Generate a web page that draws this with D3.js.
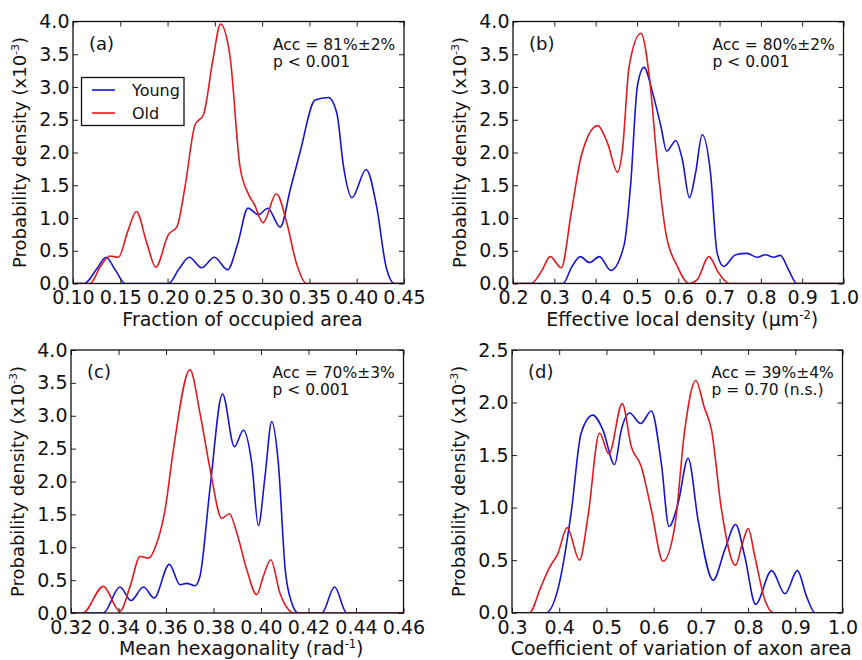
<!DOCTYPE html>
<html>
<head>
<meta charset="utf-8">
<script src="https://cdn.jsdelivr.net/npm/d3@7"></script>
<style>
  body { margin: 0; background: #fff; }
  text { font-family: "DejaVu Sans", sans-serif; fill: #111; }
</style>
</head>
<body>
<div class="interactive"></div>
<script>
// values (x, density x10^-3)
var youngA = [[0.10,0],[0.112,0],[0.125,0.22],[0.135,0.40],[0.145,0.2],[0.155,0],[0.18,0],[0.201,0],[0.212,0.22],[0.223,0.40],[0.236,0.24],[0.2495,0.40],[0.2635,0.21],[0.274,0.6],[0.285,1.15],[0.296,1.05],[0.306,1.15],[0.319,0.86],[0.330,1.45],[0.340,2.0],[0.356,2.8],[0.370,2.84],[0.379,2.6],[0.386,1.79],[0.395,1.31],[0.410,1.74],[0.421,1.18],[0.431,0.26],[0.440,0],[0.45,0]];
var oldA = [[0.10,0],[0.118,0],[0.129,0.26],[0.139,0.42],[0.148,0.40],[0.158,0.8],[0.167,1.10],[0.178,0.62],[0.1875,0.25],[0.201,0.75],[0.210,0.87],[0.2185,1.48],[0.229,2.42],[0.238,2.58],[0.248,3.42],[0.256,3.96],[0.266,3.47],[0.2765,1.79],[0.285,1.38],[0.292,1.20],[0.301,0.93],[0.315,1.37],[0.326,0.93],[0.336,0.32],[0.347,0],[0.45,0]];

var youngB = [[0.2,0],[0.321,0],[0.342,0.25],[0.363,0.41],[0.385,0.32],[0.409,0.41],[0.437,0.20],[0.469,0.59],[0.485,1.53],[0.501,3.01],[0.517,3.30],[0.538,2.91],[0.558,2.40],[0.572,2.02],[0.594,2.18],[0.610,1.89],[0.627,1.31],[0.642,1.69],[0.658,2.27],[0.678,1.69],[0.694,0.47],[0.710,0.26],[0.739,0.44],[0.767,0.46],[0.791,0.40],[0.811,0.44],[0.831,0.40],[0.847,0.43],[0.867,0.21],[0.887,0],[1.0,0]];
var oldB = [[0.2,0],[0.244,0],[0.270,0.2],[0.290,0.41],[0.317,0.24],[0.341,1.08],[0.365,1.94],[0.405,2.41],[0.429,2.14],[0.453,1.70],[0.465,2.04],[0.481,3.31],[0.5095,3.82],[0.530,3.16],[0.550,1.79],[0.570,0.77],[0.598,0.26],[0.626,0],[0.646,0.06],[0.674,0.41],[0.698,0.16],[0.723,0],[1.0,0]];

var youngC = [[0.32,0],[0.3336,0],[0.3406,0.395],[0.3453,0.19],[0.3505,0.395],[0.355,0.23],[0.3614,0.74],[0.3659,0.43],[0.3687,0.45],[0.3722,0.415],[0.3743,0.56],[0.3786,1.92],[0.3838,3.33],[0.3888,2.53],[0.3926,2.78],[0.3961,2.28],[0.3989,1.33],[0.4017,2.08],[0.4045,2.91],[0.4073,2.28],[0.4102,0.66],[0.413,0.15],[0.4158,0],[0.4256,0],[0.431,0.395],[0.4361,0],[0.46,0]];
var oldC = [[0.32,0],[0.325,0],[0.3336,0.405],[0.3406,0.025],[0.3449,0.405],[0.3491,0.86],[0.3526,0.835],[0.3561,1.06],[0.3596,1.57],[0.3631,2.48],[0.3701,3.70],[0.3743,3.04],[0.3786,2.18],[0.3835,1.44],[0.3867,1.51],[0.3898,1.22],[0.394,0.66],[0.3982,0.28],[0.401,0.56],[0.4041,0.81],[0.408,0.30],[0.4116,0.05],[0.4137,0],[0.46,0]];

var youngD = [[0.3,0],[0.3722,0],[0.397,0.22],[0.4253,0.95],[0.4465,1.71],[0.4713,1.88],[0.4925,1.74],[0.5173,1.41],[0.5315,1.74],[0.5491,1.90],[0.5725,1.80],[0.5951,1.92],[0.6163,1.42],[0.6326,0.82],[0.6517,1.04],[0.673,1.47],[0.6942,0.88],[0.726,0.31],[0.7508,0.60],[0.7735,0.84],[0.7933,0.53],[0.8159,0.08],[0.8499,0.40],[0.8782,0.18],[0.9044,0.40],[0.9242,0.15],[0.9419,0],[1.0,0]];
var oldD = [[0.3,0],[0.3368,0],[0.3616,0.25],[0.3793,0.43],[0.397,0.56],[0.4168,0.81],[0.443,0.50],[0.4607,0.91],[0.4854,1.71],[0.5052,1.51],[0.5335,1.99],[0.5527,1.58],[0.5739,1.39],[0.5951,0.98],[0.6199,0.49],[0.6447,0.82],[0.6659,1.74],[0.6892,2.21],[0.7069,1.96],[0.7225,1.74],[0.7437,0.98],[0.7735,0.45],[0.7862,0.63],[0.8003,0.80],[0.8145,0.53],[0.8357,0.12],[0.8534,0],[1.0,0]];

var ticksA = [0.10,0.15,0.20,0.25,0.30,0.35,0.40,0.45];
var ticksB = [0.2,0.3,0.4,0.5,0.6,0.7,0.8,0.9,1.0];
var ticksC = [0.32,0.34,0.36,0.38,0.40,0.42,0.44,0.46];
var ticksD = [0.3,0.4,0.5,0.6,0.7,0.8,0.9,1.0];
var yTicks4 = [0,0.5,1,1.5,2,2.5,3,3.5,4];
var yTicks25 = [0,0.5,1,1.5,2,2.5];

var seriesNames = ["Young", "Old"];
var colors = ["#1515d0", "#e01a1e"];

var width = 862;
var height = 660;

var svg = d3.select(".interactive")
    .append("svg")
    .attr("width", width)
    .attr("height", height);

function panel(o) {
    var x = d3.scaleLinear().domain([o.xt[0], o.xt[o.xt.length-1]]).range([o.left, o.right]);
    var y = d3.scaleLinear().domain([0, o.yt[o.yt.length-1]]).range([o.bottom, o.top]);
    var g = svg.append("g");

    g.append("clipPath").attr("id", "clip" + o.id)
        .append("rect").attr("x", o.left).attr("y", o.top - 2)
        .attr("width", o.right - o.left).attr("height", o.bottom - o.top + 2);

    var line = d3.line()
        .x(function(d) { return x(d[0]); })
        .y(function(d) { return y(d[1]); })
        .curve(d3.curveMonotoneX);

    [o.young, o.old].forEach(function(s, i) {
        g.append("path")
            .attr("d", line(s))
            .attr("fill", "none")
            .attr("stroke", colors[i])
            .attr("stroke-width", 1.6)
            .attr("clip-path", "url(#clip" + o.id + ")");
    });

    // inward ticks on all four sides
    g.append("g").attr("transform", "translate(0," + o.bottom + ")")
        .call(d3.axisBottom(x).tickValues(o.xt).tickSizeInner(-5).tickSizeOuter(0).tickPadding(7.5).tickFormat(d3.format(o.fmt)));
    g.append("g").attr("transform", "translate(0," + o.top + ")")
        .call(d3.axisTop(x).tickValues(o.xt).tickSizeInner(-5).tickSizeOuter(0).tickFormat(""));
    g.append("g").attr("transform", "translate(" + o.left + ",0)")
        .call(d3.axisLeft(y).tickValues(o.yt).tickSizeInner(-5).tickSizeOuter(0).tickPadding(3.5).tickFormat(d3.format(".1f")));
    g.append("g").attr("transform", "translate(" + o.right + ",0)")
        .call(d3.axisRight(y).tickValues(o.yt).tickSizeInner(-5).tickSizeOuter(0).tickFormat(""));
    g.selectAll(".domain").remove();
    g.selectAll(".tick line").attr("stroke", "#222").attr("stroke-width", 1);
    g.selectAll(".tick text").style("font-size", "19px").style("font-family", "DejaVu Sans").attr("fill", "#111");

    g.append("rect")
        .attr("x", o.left).attr("y", o.top)
        .attr("width", o.right - o.left).attr("height", o.bottom - o.top)
        .attr("fill", "none").attr("stroke", "#111").attr("stroke-width", 1.3);

    // x label
    var xl = g.append("text")
        .attr("x", (o.left + o.right) / 2 + 4)
        .attr("y", o.bottom + 42)
        .attr("text-anchor", "middle")
        .style("font-size", "19px")
        .text(o.xlabel);
    if (o.xsup) {
        xl.append("tspan").attr("dy", -7).style("font-size", "11.5px").text(o.xsup);
        xl.append("tspan").attr("dy", 7).text(")");
    }

    // y label
    var yl = g.append("text")
        .attr("transform", "translate(" + (o.left - 47) + "," + ((o.top + o.bottom) / 2) + ") rotate(-90)")
        .attr("text-anchor", "middle")
        .style("font-size", "18px")
        .text("Probability density (x10");
    yl.append("tspan").attr("dy", -7).style("font-size", "11px").text("-3");
    yl.append("tspan").attr("dy", 7).text(")");

    g.append("text")
        .attr("x", o.left + 16).attr("y", o.top + 28)
        .style("font-size", "18px")
        .text(o.tag);

    g.append("text")
        .attr("x", o.right - 131).attr("y", o.top + 28)
        .style("font-size", "15.5px")
        .text(o.acc);
    g.append("text")
        .attr("x", o.right - 131).attr("y", o.top + 45)
        .style("font-size", "15.5px")
        .text(o.p);
}

panel({ id: "a", tag: "(a)", left: 73, right: 404, top: 21.5, bottom: 283.5, xt: ticksA, yt: yTicks4, fmt: ".2f",
    young: youngA, old: oldA, xlabel: "Fraction of occupied area", acc: "Acc = 81%\u00b12%", p: "p < 0.001" });
panel({ id: "b", tag: "(b)", left: 513, right: 843.5, top: 21.5, bottom: 283.5, xt: ticksB, yt: yTicks4, fmt: ".1f",
    young: youngB, old: oldB, xlabel: "Effective local density (\u03bcm", xsup: "-2", acc: "Acc = 80%\u00b12%", p: "p < 0.001" });
panel({ id: "c", tag: "(c)", left: 71, right: 403.5, top: 350, bottom: 613, xt: ticksC, yt: yTicks4, fmt: ".2f",
    young: youngC, old: oldC, xlabel: "Mean hexagonality (rad", xsup: "-1", acc: "Acc = 70%\u00b13%", p: "p < 0.001" });
panel({ id: "d", tag: "(d)", left: 512, right: 842.5, top: 350, bottom: 612.7, xt: ticksD, yt: yTicks25, fmt: ".1f",
    young: youngD, old: oldD, xlabel: "Coefficient of variation of axon area", acc: "Acc = 39%\u00b14%", p: "p = 0.70 (n.s.)" });

// legend in panel (a)
var leg = svg.append("g");
leg.append("rect")
    .attr("x", 81.5).attr("y", 77.5).attr("width", 102.5).attr("height", 48)
    .attr("fill", "#fff").attr("stroke", "#111").attr("stroke-width", 1.3);
seriesNames.forEach(function(name, i) {
    leg.append("line")
        .attr("x1", 92).attr("x2", 115)
        .attr("y1", 90 + i * 23).attr("y2", 90 + i * 23)
        .attr("stroke", colors[i]).attr("stroke-width", 1.6);
    leg.append("text")
        .attr("x", 132).attr("y", 96 + i * 23)
        .style("font-size", "16px")
        .text(name);
});
</script>
</body>
</html>
